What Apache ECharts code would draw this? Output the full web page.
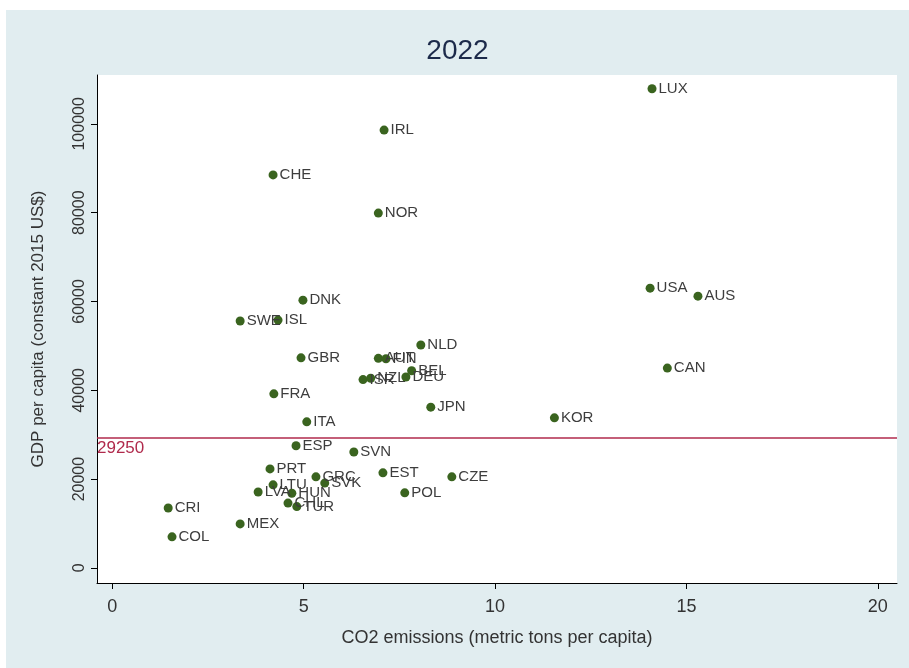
<!DOCTYPE html>
<html>
<head>
<meta charset="utf-8">
<script src="https://cdn.jsdelivr.net/npm/echarts@6/dist/echarts.min.js"></script>
<style>
  html, body { margin: 0; padding: 0; background: #fff; }
  #chart { position: absolute; left: 6px; top: 10px; width: 903px; height: 658px; }
</style>
</head>
<body>
<div id="chart"></div>
<script>
// country codes, CO2 per capita (t), GDP per capita (2015 US$)
const countries = ['LUX','IRL','CHE','NOR','USA','AUS','DNK','SWE','ISL','NLD','AUT','FIN','GBR','BEL','DEU','ISR','NZL','CAN','FRA','JPN','KOR','ITA','ESP','SVN','PRT','EST','CZE','GRC','SVK','LTU','LVA','HUN','POL','CHL','TUR','CRI','MEX','COL']
const co2 = [14.1, 7.1, 4.2, 6.95, 14.05, 15.3, 4.98, 3.34, 4.33, 8.06, 6.95, 7.15, 4.93, 7.82, 7.67, 6.55, 6.75, 14.5, 4.22, 8.32, 11.55, 5.08, 4.8, 6.31, 4.12, 7.07, 8.87, 5.32, 5.55, 4.2, 3.81, 4.69, 7.64, 4.59, 4.82, 1.46, 3.34, 1.56]
const gdp = [107900, 98600, 88500, 79900, 63000, 61200, 60300, 55600, 55800, 50200, 47200, 47100, 47300, 44400, 43000, 42400, 42700, 45000, 39200, 36200, 33800, 32900, 27500, 26100, 22300, 21400, 20500, 20500, 19100, 18700, 17100, 16800, 16900, 14600, 13800, 13500, 9900, 7000]
const refValue = 29250
const xTicks = [0, 5, 10, 15, 20]
const yTicks = [0, 20000, 40000, 60000, 80000, 100000]

const points = countries.map((c, i) => ({ name: c, value: [co2[i], gdp[i]] }))

const chart = echarts.init(document.getElementById('chart'))
chart.setOption({
  backgroundColor: '#e1edf0',
  animation: false,
  title: {
    text: '2022',
    left: 'center',
    top: 22,
    textStyle: {
      fontFamily: 'Liberation Sans Narrow, Liberation Sans, sans-serif',
      fontWeight: 'normal',
      fontSize: 28,
      color: '#1c2a4a'
    }
  },
  grid: {
    left: 91,
    right: 12,
    top: 65,
    bottom: 85,
    show: true,
    backgroundColor: '#fff',
    borderWidth: 0
  },
  xAxis: {
    type: 'value',
    min: -0.4,
    max: 20.5,
    name: 'CO2 emissions (metric tons per capita)',
    nameLocation: 'middle',
    nameGap: 46,
    nameTextStyle: { fontFamily: 'Liberation Sans Narrow, Liberation Sans, sans-serif', fontSize: 18, color: '#333' },
    axisLine: { onZero: false, lineStyle: { color: '#000', width: 1 } },
    axisTick: { customValues: xTicks, length: 6, lineStyle: { color: '#000' } },
    axisLabel: {
      customValues: xTicks,
      margin: 15,
      fontFamily: 'Liberation Sans Narrow, Liberation Sans, sans-serif',
      fontSize: 18,
      color: '#333'
    },
    splitLine: { show: false }
  },
  yAxis: {
    type: 'value',
    min: -3400,
    max: 111000,
    name: 'GDP per capita (constant 2015 US$)',
    nameLocation: 'middle',
    nameGap: 50,
    nameTextStyle: { fontFamily: 'Liberation Sans, sans-serif', fontSize: 17, color: '#333' },
    axisLine: { onZero: false, lineStyle: { color: '#000', width: 1 } },
    axisTick: { customValues: yTicks, length: 6, lineStyle: { color: '#000' } },
    axisLabel: {
      customValues: yTicks,
      formatter: v => String(v),
      rotate: 90,
      margin: 9,
      fontFamily: 'Liberation Sans, sans-serif',
      fontSize: 16,
      color: '#333'
    },
    splitLine: { show: false }
  },
  series: [
    {
      type: 'scatter',
      data: points,
      symbol: 'circle',
      symbolSize: 9,
      itemStyle: { color: '#3a641f', opacity: 1 },
      label: {
        show: true,
        position: 'right',
        distance: 2,
        formatter: '{b}',
        fontFamily: 'Liberation Sans, sans-serif',
        fontSize: 15,
        color: '#3d3d3d'
      },
      markLine: {
        silent: true,
        symbol: 'none',
        lineStyle: { color: '#b02a4c', width: 1.5, type: 'solid' },
        label: {
          position: 'insideStartBottom',
          formatter: '{c}',
          distance: [0, 2],
          fontFamily: 'Liberation Sans, sans-serif',
          fontSize: 17,
          color: '#b02a4c'
        },
        data: [{ yAxis: refValue }]
      }
    }
  ]
})
</script>
</body>
</html>
